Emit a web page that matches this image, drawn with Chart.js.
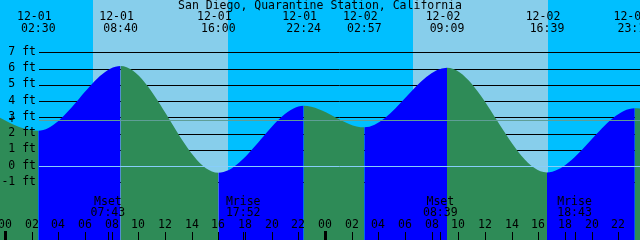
<!DOCTYPE html>
<html>
<head>
<meta charset="utf-8">
<script src="https://cdn.jsdelivr.net/npm/chart.js@4.4.1/dist/chart.umd.min.js"></script>
<style>
  html, body { margin: 0; padding: 0; background: #00bfff; }
  #wrap { width: 640px; height: 240px; }
</style>
</head>
<body>
<div id="wrap"><canvas id="tide"></canvas></div>
<script>
var title = 'San Diego, Quarantine Station, California';

// high / low tides (first and last are just off the picture)
var tideDays  = ['11-30', '12-01', '12-01', '12-01', '12-01', '12-02', '12-02', '12-02', '12-02', '12-03'];
var tideClock = ['21:40', '02:30', '08:40', '16:00', '22:24', '02:57', '09:09', '16:39', '23:14', '04:30'];
var tideFeet  = [3.8, 2.18, 6.16, -0.4, 3.72, 2.39, 6.05, -0.38, 3.56, 2.4];

var sunDays    = ['12-01', '12-02'];
var sunriseClk = ['06:36', '06:37'];
var sunsetClk  = ['16:44', '16:44'];

var moonDays  = ['12-01', '12-01', '12-02', '12-02'];
var moonNames = ['Mset', 'Mrise', 'Mset', 'Mrise'];
var moonClock = ['07:43', '17:52', '08:39', '18:43'];

var feetTicks  = [-1, 0, 1, 2, 3, 4, 5, 6, 7];
var hourLabels = ['00', '02', '04', '06', '08', '10', '12', '14', '16', '18', '20', '22',
                  '00', '02', '04', '06', '08', '10', '12', '14', '16', '18', '20', '22'];
var meanLevel = 2.82;

var dayOffset = { '11-30': -24, '12-01': 0, '12-02': 24, '12-03': 48 };
function hours(day, clock) {
    var p = clock.split(':');
    return dayOffset[day] + parseInt(p[0], 10) + parseInt(p[1], 10) / 60;
}

var points = tideDays.map(function (d, i) {
    return { x: hours(d, tideClock[i]), y: tideFeet[i] };
});

var FONT = '11.5px "DejaVu Sans Mono"';

var tidePlugin = {
    id: 'tideDecor',
    beforeDatasetsDraw: function (chart) {
        var c = chart.ctx, xs = chart.scales.x, ys = chart.scales.y;
        c.save();
        c.fillStyle = '#00bfff';
        c.fillRect(0, 0, chart.width, chart.height);
        c.fillStyle = '#87ceeb';
        for (var i = 0; i < sunDays.length; i++) {
            var a = Math.round(xs.getPixelForValue(hours(sunDays[i], sunriseClk[i])));
            var b = Math.round(xs.getPixelForValue(hours(sunDays[i], sunsetClk[i])));
            c.fillRect(a, 0, b - a, chart.height);
        }
        c.strokeStyle = '#000';
        c.lineWidth = 1;
        feetTicks.forEach(function (f) {
            var y = Math.round(ys.getPixelForValue(f)) + 0.5;
            c.beginPath();
            c.moveTo(39, y);
            c.lineTo(chart.width, y);
            c.stroke();
        });
        c.restore();
    },
    afterDatasetsDraw: function (chart) {
        var c = chart.ctx, xs = chart.scales.x, ys = chart.scales.y;
        c.save();
        c.lineWidth = 1;
        // mean level and datum lines over the water
        var ym = Math.round(ys.getPixelForValue(meanLevel)) + 0.5;
        c.strokeStyle = '#5f9e96';
        c.beginPath(); c.moveTo(39, ym); c.lineTo(chart.width, ym); c.stroke();
        var y0 = Math.round(ys.getPixelForValue(0)) + 0.5;
        c.strokeStyle = '#87cefa';
        c.beginPath(); c.moveTo(39, y0); c.lineTo(chart.width, y0); c.stroke();

        c.font = FONT;
        c.fillStyle = '#000';
        c.textBaseline = 'middle';

        // feet labels
        c.textAlign = 'right';
        feetTicks.forEach(function (f) {
            c.fillText(f + ' ft', 36, ys.getPixelForValue(f) - 0.5);
        });
        c.textAlign = 'center';
        c.fillText('+', 12, ym);

        // title
        c.fillText(title, 320, 6);

        // tide times on top
        points.forEach(function (p, i) {
            var x = xs.getPixelForValue(p.x);
            if (x < -20 || x > chart.width + 20) return;
            c.fillText(tideDays[i], x - 4, 17);
            c.fillText(tideClock[i], x, 29.5);
        });

        // hour ticks
        c.strokeStyle = '#000';
        hourLabels.forEach(function (lab, i) {
            var x = Math.round(xs.getPixelForValue(i * 2));
            c.fillText(lab, x, 225);
            if (lab === '00') {
                c.fillRect(x - 1, 231, 3, 9);
            } else {
                c.fillRect(x, 232, 1, 8);
            }
        });

        // moon rise / set
        moonNames.forEach(function (name, i) {
            var x = xs.getPixelForValue(hours(moonDays[i], moonClock[i]));
            c.fillText(name, x, 202);
            c.fillText(moonClock[i], x, 213.5);
            c.fillRect(Math.round(x), 232, 1, 8);
        });
        c.restore();
    }
};

new Chart(document.getElementById('tide').getContext('2d'), {
    type: 'line',
    data: {
        datasets: [{
            data: points,
            fill: 'start',
            cubicInterpolationMode: 'monotone',
            pointRadius: 0,
            borderWidth: 0,
            borderColor: 'rgba(0,0,0,0)',
            backgroundColor: '#0000ff',
            segment: {
                backgroundColor: function (s) {
                    return s.p1.parsed.y > s.p0.parsed.y ? '#0000ff' : '#2e8b57';
                }
            }
        }]
    },
    options: {
        responsive: true,
        maintainAspectRatio: false,
        animation: false,
        events: [],
        layout: { padding: 0 },
        plugins: { legend: { display: false }, tooltip: { enabled: false } },
        scales: {
            x: { type: 'linear', min: -0.375, max: 47.625, display: false },
            y: { min: -4.536, max: 10.215, display: false }
        }
    },
    plugins: [tidePlugin]
});
</script>
</body>
</html>
